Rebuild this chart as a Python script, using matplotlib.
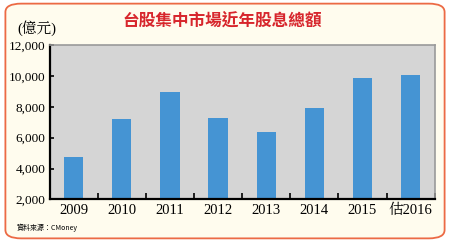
import matplotlib
matplotlib.use('Agg')
from matplotlib import pyplot as plt
from matplotlib.patches import FancyBboxPatch
from matplotlib.ticker import FuncFormatter

years = ['2009', '2010', '2011', '2012', '2013', '2014', '2015', '估2016']
dividends = [4750, 7190, 8970, 7270, 6340, 7930, 9880, 10040]
yticks = [2000, 4000, 6000, 8000, 10000, 12000]

serif = ['Liberation Serif', 'Noto Serif CJK TC', 'Noto Sans CJK TC']
cjk = ['Noto Sans CJK TC', 'DejaVu Sans']

fig = plt.figure(figsize=(4.5, 2.42), dpi=100)
fig.patch.set_facecolor('white')

# rounded frame around the whole chart
frame = FancyBboxPatch((0.012, 0.015), 0.976, 0.97,
                       boxstyle='round,pad=0,rounding_size=0.035',
                       transform=fig.transFigure, facecolor='#fffcee',
                       edgecolor='#ec6a45', linewidth=1.3, zorder=-1)
fig.patches.append(frame)

ax = fig.add_axes([0.110, 0.176, 0.856, 0.638])
ax.set_facecolor('#d5d5d5')
x = range(len(years))
ax.bar(x, dividends, width=0.4, color='#4594d3', zorder=2)

ax.set_xlim(-0.5, len(years) - 0.5)
ax.set_ylim(2000, 12000)
ax.set_yticks(yticks)
ax.yaxis.set_major_formatter(FuncFormatter(lambda v, p: f'{int(v):,}'))
ax.set_xticks([i + 0.5 for i in range(len(years))])
ax.set_xticklabels([])
ax.set_xticks(list(x), minor=True)
ax.set_xticklabels(years, minor=True, family=serif, fontsize=10.5)
ax.tick_params(axis='x', which='major', direction='in', length=4, width=1.2, color='black')
ax.tick_params(axis='x', which='minor', length=0, pad=3)
ax.tick_params(axis='y', direction='in', length=3, width=1.2, color='black', pad=3)
for lbl in ax.get_yticklabels():
  lbl.set_family(serif)
  lbl.set_fontsize(9.5)

ax.spines['left'].set_linewidth(1.6)
ax.spines['bottom'].set_linewidth(1.6)
ax.spines['top'].set_color('#9a9a9a')
ax.spines['right'].set_color('#9a9a9a')
ax.spines['top'].set_linewidth(1.2)
ax.spines['right'].set_linewidth(1.2)

fig.text(0.493, 0.913, '台股集中市場近年股息總額', family=cjk, fontsize=12,
         fontweight='bold', color='#d7262c', ha='center', va='center')
fig.text(0.038, 0.885, '(億元)', family=serif, fontsize=10.5, ha='left', va='center')
fig.text(0.038, 0.06, '資料來源：CMoney', family=cjk, fontsize=5, ha='left', va='center')

plt.savefig('out.png', dpi=100, facecolor=fig.get_facecolor())
